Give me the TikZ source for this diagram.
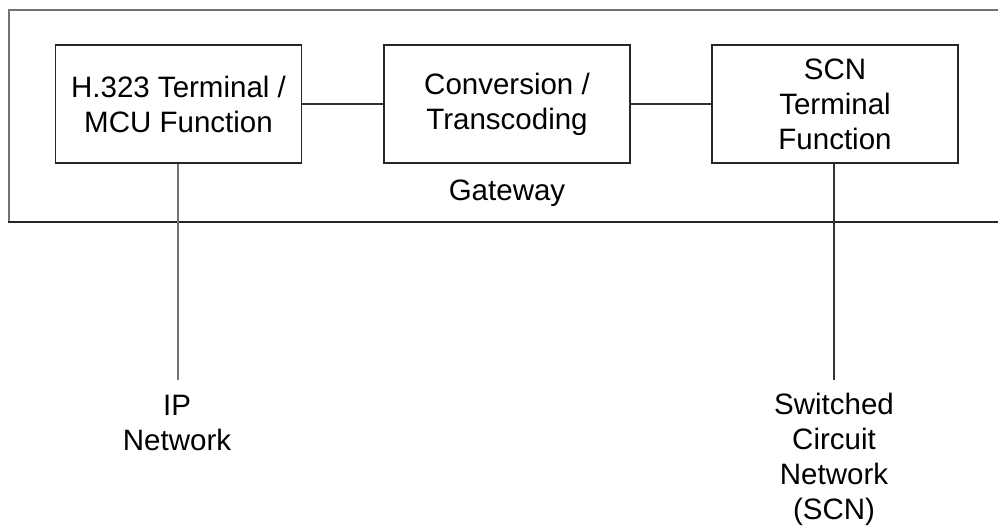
\documentclass[tikz,border=0pt]{standalone}
\usepackage{fontspec}
\setmainfont{Liberation Sans}
\newcommand\figfs{\fontsize{29.5}{35}\selectfont}
\begin{document}
\begin{tikzpicture}[x=1pt,y=-1pt,
  box/.style={draw=black!85,line width=1.4pt,minimum width=246pt,minimum height=118pt,align=center,inner sep=0pt,font=\figfs},
  lbl/.style={align=center,font=\figfs,inner sep=0pt},
  conn/.style={draw=black!80,line width=1.4pt}]
\useasboundingbox (0,0) rectangle (998,527);
% gateway frame (open to the right)
\draw[black!55,line width=2.8pt] (998,10) -- (9,10) -- (9,222);
\draw[black!85,line width=1.4pt] (8,222) -- (998,222);
\node[lbl] (gw) at (507,193) {Gateway};
% function boxes
\node[box] (h323) at (178.5,104) {H.323 Terminal /\\MCU Function};
\node[box] (conv) at (507,104) {Conversion /\\Transcoding};
\node[box] (scnf) at (835,104) {SCN\\Terminal\\Function};
\draw[conn] (h323) -- (conv);
\draw[conn] (conv) -- (scnf);
% networks
\coordinate (ipend) at (177.5,380);
\coordinate (scnend) at (834,380);
\node[lbl] (ipnet) at (177,423) {IP\\Network};
\node[lbl] (scnnet) at (834,459) {Switched\\Circuit\\Network\\(SCN)};
\draw[black!55,line width=2pt] (h323.south -| ipend) -- (ipend);
\draw[conn] (scnf.south -| scnend) -- (scnend);
\end{tikzpicture}
\end{document}
